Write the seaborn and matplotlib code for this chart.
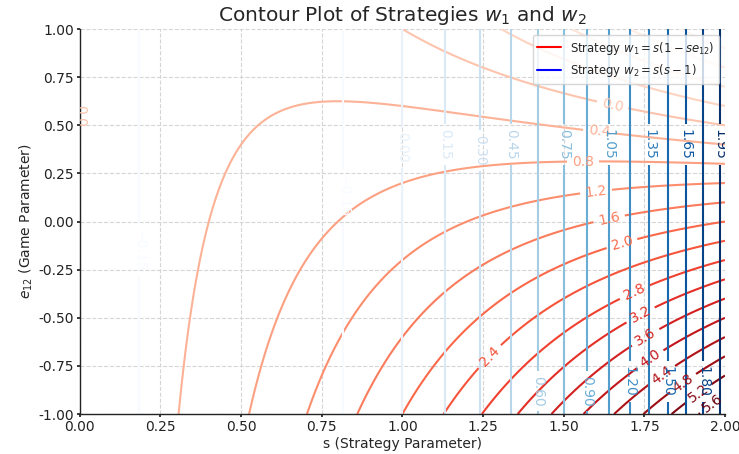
import numpy as np
import matplotlib
matplotlib.use("Agg")
import matplotlib.pyplot as plt
import seaborn as sns

# Parameter ranges
s_range = [0.0, 2.0]
e12_range = [-1.0, 1.0]
n_points = 400

# Contour levels
w1_levels = [-1.6, -1.2, -0.8, -0.4, 0.0, 0.4, 0.8, 1.2, 1.6, 2.0, 2.4, 2.8,
             3.2, 3.6, 4.0, 4.4, 4.8, 5.2, 5.6]
w2_levels = [-0.15, 0.0, 0.15, 0.30, 0.45, 0.60, 0.75, 0.90, 1.05, 1.20,
             1.35, 1.50, 1.65, 1.80, 1.95]

legend_labels = [r"Strategy $w_1 = s(1 - se_{12})$", r"Strategy $w_2 = s(s - 1)$"]

# Where the contour labels sit (layout only)
w1_label_spots = [(0.0, 0.55), (1.65, 0.595), (1.61, 0.475), (1.56, 0.31),
                  (1.60, 0.16), (1.64, 0.02), (1.68, -0.11), (1.27, -0.70),
                  (1.72, -0.37), (1.74, -0.49), (1.75, -0.59), (1.77, -0.72),
                  (1.81, -0.81), (1.87, -0.84), (1.92, -0.90), (1.96, -0.94)]
w2_label_spots = [(0.186, -0.15), (0.816, 0.13), (1.0, 0.385), (1.13, 0.40),
                  (1.24, 0.37), (1.34, 0.40), (1.42, -0.88), (1.50, 0.40),
                  (1.57, -0.88), (1.64, 0.40), (1.70, -0.83), (1.765, 0.40),
                  (1.82, -0.83), (1.878, 0.40), (1.932, -0.83), (1.983, 0.40)]

sns.set_theme(style="white")
plt.rcParams.update({
    "font.family": ["DejaVu Sans"],
    "axes.grid": True,
    "grid.linestyle": "--",
    "grid.color": "#d5d5d5",
    "grid.linewidth": 0.8,
    "axes.edgecolor": "#222222",
    "axes.linewidth": 1.0,
    "xtick.bottom": True,
    "ytick.left": True,
    "xtick.major.size": 2.5,
    "ytick.major.size": 2.5,
    "xtick.major.pad": 1.8,
    "ytick.major.pad": 1.8,
    "xtick.color": "#222222",
    "ytick.color": "#222222",
    "axes.labelpad": 2.5,
})

s = np.linspace(s_range[0], s_range[1], n_points)
e12 = np.linspace(e12_range[0], e12_range[1], n_points)
S, E = np.meshgrid(s, e12)
W1 = S * (1 - S * E)
W2 = S * (S - 1)

fig = plt.figure(figsize=(7.39, 4.54), dpi=100)
ax = fig.add_axes([0.108, 0.088, 0.873, 0.848])
ax.set_xlim(0, 2)
ax.set_ylim(-1, 1)

c1 = ax.contour(S, E, W1, levels=w1_levels, cmap="Reds", linewidths=1.5)
c2 = ax.contour(S, E, W2, levels=w2_levels, cmap="Blues", linewidths=1.5)
ax.set_xlim(0, 2)
ax.set_ylim(-1, 1)
ax.clabel(c1, inline=True, fontsize=10, manual=w1_label_spots)
ax.clabel(c2, inline=True, fontsize=10, manual=w2_label_spots)

ax.plot([], [], color="red", label=legend_labels[0])
ax.plot([], [], color="blue", label=legend_labels[1])
ax.legend(loc="upper right", fontsize=8.4)

ax.set_title(r"Contour Plot of Strategies $w_1$ and $w_2$", fontsize=14.5)
ax.set_xlabel("s (Strategy Parameter)", fontsize=10)
ax.set_ylabel(r"$e_{12}$ (Game Parameter)", fontsize=10)
ax.tick_params(labelsize=10)
ax.set_xticks(np.arange(0, 2.01, 0.25))
ax.set_yticks(np.arange(-1, 1.01, 0.25))
ax.xaxis.set_major_formatter(matplotlib.ticker.FormatStrFormatter("%.2f"))
ax.yaxis.set_major_formatter(matplotlib.ticker.FormatStrFormatter("%.2f"))
ax.set_xlim(0, 2)
ax.set_ylim(-1, 1)
sns.despine(ax=ax)

fig.savefig("out.png", dpi=100)
